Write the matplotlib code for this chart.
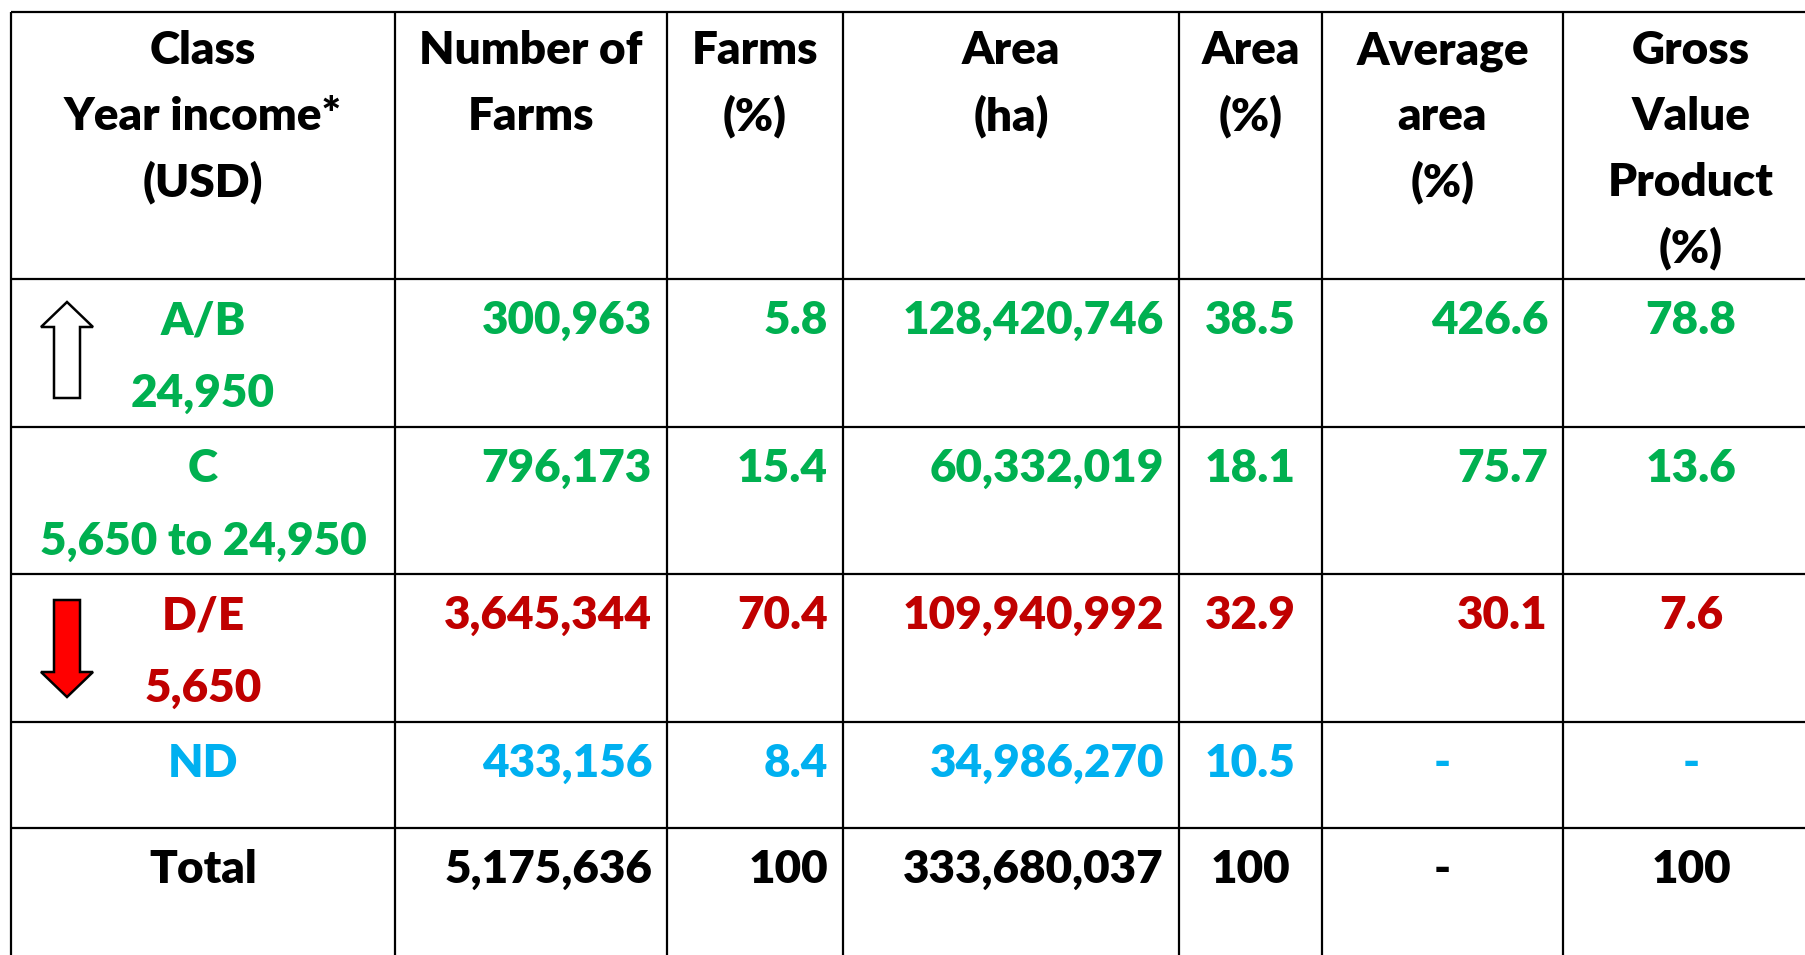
import matplotlib.pyplot as plt
from matplotlib.patches import Polygon

plt.rcParams["font.family"] = ["Lato", "DejaVu Sans"]

# Table data
classes = ["A/B", "C", "D/E", "ND", "Total"]
income_ranges = ["24,950", "5,650 to 24,950", "5,650", "", ""]
n_farms = [300963, 796173, 3645344, 433156, 5175636]
farms_pct = [5.8, 15.4, 70.4, 8.4, 100]
area_ha = [128420746, 60332019, 109940992, 34986270, 333680037]
area_pct = [38.5, 18.1, 32.9, 10.5, 100]
avg_area = [426.6, 75.7, 30.1, None, None]
gvp_pct = [78.8, 13.6, 7.6, None, 100]
row_colors = ["#00B050", "#00B050", "#C00000", "#00B0F0", "black"]

headers = [
    ["Class", "Year income*", "(USD)"],
    ["Number of", "Farms"],
    ["Farms", "(%)"],
    ["Area", "(ha)"],
    ["Area", "(%)"],
    ["Average", "area", "(%)"],
    ["Gross", "Value", "Product", "(%)"],
]

# Layout (pixels)
W, H = 1806, 955
col_x = [11, 395, 667, 843, 1179, 1322, 1563, 1820]
row_y = [12, 279, 427, 574, 722, 828, 955]
pad = 15
fs = 33
cap = 16
weight = "heavy"


def fmt_pct(v, total=False):
    if v is None:
        return "-"
    if total:
        return f"{v:g}"
    return f"{v:.1f}"


fig = plt.figure(figsize=(W / 100, H / 100), dpi=100)
ax = fig.add_axes([0, 0, 1, 1])
ax.set_xlim(0, W)
ax.set_ylim(H, 0)
ax.axis("off")

# Grid lines
for y in row_y[:-1]:
    ax.plot([col_x[0], W], [y, y], color="black", lw=1.6, solid_capstyle="butt")
for x in col_x[:-1]:
    ax.plot([x, x], [row_y[0], H], color="black", lw=1.6, solid_capstyle="butt")

# Header
for c, lines in enumerate(headers):
    cx = (col_x[c] + col_x[c + 1]) / 2
    if c == 6:
        cx = 1691
    for i, s in enumerate(lines):
        ax.text(cx, row_y[0] + 36 + i * 66 + cap, s, ha="center", va="baseline",
                fontsize=fs, fontweight=weight, color="black")

# Body
for r in range(len(classes)):
    color = row_colors[r]
    top = row_y[r + 1]
    y1 = top + 39 + cap
    y2 = top + 112 + cap
    total = classes[r] == "Total"
    kw = dict(va="baseline", fontsize=fs, fontweight=weight, color=color)

    cx0 = (col_x[0] + col_x[1]) / 2
    ax.text(cx0, y1, classes[r], ha="center", **kw)
    if income_ranges[r]:
        ax.text(cx0, y2, income_ranges[r], ha="center", **kw)

    ax.text(col_x[2] - pad, y1, f"{n_farms[r]:,}", ha="right", **kw)
    ax.text(col_x[3] - pad, y1, fmt_pct(farms_pct[r], total), ha="right", **kw)
    ax.text(col_x[4] - pad, y1, f"{area_ha[r]:,}", ha="right", **kw)
    ax.text((col_x[4] + col_x[5]) / 2, y1, fmt_pct(area_pct[r], total), ha="center", **kw)
    if avg_area[r] is None:
        ax.text((col_x[5] + col_x[6]) / 2, y1, "-", ha="center", **kw)
    else:
        ax.text(col_x[6] - pad, y1, fmt_pct(avg_area[r]), ha="right", **kw)
    ax.text(1691, y1, fmt_pct(gvp_pct[r], total), ha="center", **kw)

# Arrows in the class column
ax_c, hw, sw = 67, 26, 13
up = [(ax_c, 302), (ax_c + hw, 327), (ax_c + sw, 327), (ax_c + sw, 398),
      (ax_c - sw, 398), (ax_c - sw, 327), (ax_c - hw, 327)]
down = [(ax_c, 697), (ax_c + hw, 672), (ax_c + sw, 672), (ax_c + sw, 600),
        (ax_c - sw, 600), (ax_c - sw, 672), (ax_c - hw, 672)]
ax.add_patch(Polygon(up, closed=True, facecolor="white", edgecolor="black", lw=1.8))
ax.add_patch(Polygon(down, closed=True, facecolor="#FF0000", edgecolor="black", lw=1.8))

fig.savefig("out.png", dpi=100, facecolor="white")
